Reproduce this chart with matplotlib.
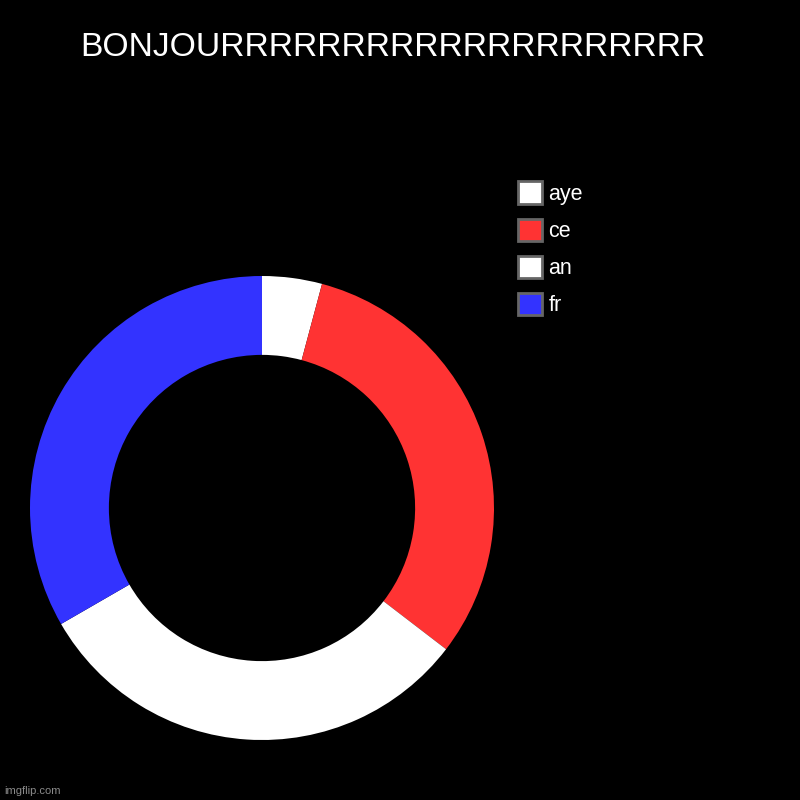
import matplotlib
matplotlib.use("Agg")
import matplotlib.pyplot as plt
from matplotlib.patches import Patch

# Data
title = "BONJOU" + "R" * 20
labels = ["aye", "ce", "an", "fr"]
values = [2, 15, 15, 16]
colors = ["#ffffff", "#ff3333", "#ffffff", "#3333ff"]

plt.rcParams['font.family'] = ['Liberation Sans', 'DejaVu Sans']

W = H = 800
fig = plt.figure(figsize=(8, 8), dpi=100, facecolor="black")

cx, cy, R = 262, 508, 232
ax = fig.add_axes([(cx - R) / W, (H - cy - R) / H, 2 * R / W, 2 * R / H])
ax.set_facecolor("black")
ax.pie(values, colors=colors, startangle=90, counterclock=False, radius=1,
       wedgeprops=dict(width=0.34, edgecolor="none", linewidth=0))
ax.set_xlim(-1, 1)
ax.set_ylim(-1, 1)
ax.set_aspect("equal")
ax.axis("off")

fig.text(393 / W, 1 - 47 / H, title, color="white", fontsize=24.2,
         ha="center", va="center")

handles = [Patch(facecolor=c, edgecolor="#666666", linewidth=2) for c in colors]
fs = 15.5
leg = fig.legend(handles, labels, loc="upper left",
                 bbox_to_anchor=(518 / W, 1 - 181.5 / H), frameon=False,
                 fontsize=fs, borderpad=0, borderaxespad=0,
                 handlelength=1.12, handleheight=1.2, handletextpad=0.3,
                 labelspacing=0.64, labelcolor="white")

fig.text(4 / W, 1 - 791 / H, "imgflip.com", color="#8a8a8a", fontsize=8,
         ha="left", va="center")

fig.savefig("out.png", dpi=100, facecolor="black")
